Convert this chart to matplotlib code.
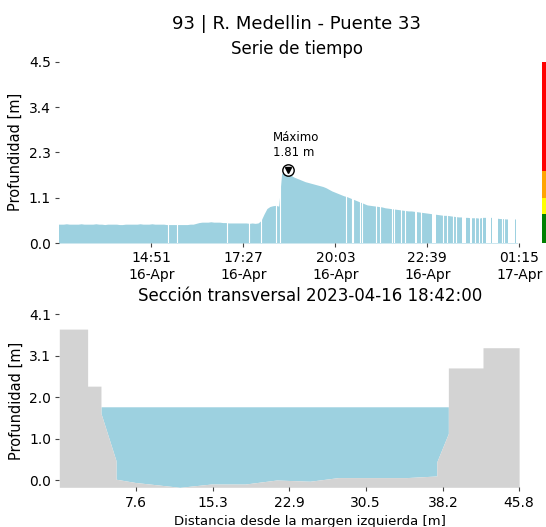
import matplotlib
matplotlib.use("Agg")
import matplotlib.pyplot as plt
import matplotlib.dates as mdates
import numpy as np
import pandas as pd
from datetime import datetime, timedelta

# ---------------- data ----------------
FECHA_BASE = datetime(2023, 4, 16)

def hora(s):
    h, m = map(int, s.split(":"))
    d = FECHA_BASE + timedelta(hours=h, minutes=m)
    if h < 12:
        d += timedelta(days=1)
    return d

inicio_muestras = "12:12"   # readings every 5 min
profundidad = [
    0.47, 0.47, 0.47, 0.48, 0.47, 0.47, 0.47, 0.47, 0.48, 0.47, 0.47, 0.47,
    0.47, 0.48, 0.47, 0.47, 0.46, 0.47, 0.47, 0.47, 0.47, 0.46, 0.46, 0.47,
    0.47, 0.47, 0.47, 0.47, 0.48, 0.47, 0.47, 0.47, 0.48, 0.47, 0.47, 0.47,
    0.47, 0.46, 0.46, 0.46, 0.46, 0.46, 0.46, 0.46, 0.46, 0.47, 0.47, 0.49,
    0.51, 0.52, 0.52, 0.52, 0.53, 0.52, 0.52, 0.52, 0.51, 0.51, 0.50, 0.50,
    0.50, 0.50, 0.50, 0.50, 0.50, 0.49, 0.50, 0.49, 0.50, 0.56, 0.72, 0.86,
    0.91, 0.93, 0.94, 0.92, 1.74, 1.78, 1.81, 1.70, 1.65, 1.62, 1.59, 1.56,
    1.53, 1.51, 1.49, 1.47, 1.45, 1.43, 1.41, 1.38, 1.34, 1.30, 1.27, 1.24,
    1.21, 1.18, 1.16, 1.13, 1.10, 1.07, 1.04, 1.01, 0.98, 0.95, 0.94, 0.93,
    0.92, 0.91, 0.90, 0.88, 0.87, 0.86, 0.85, 0.84, 0.83, 0.82, 0.81, 0.80,
    0.80, 0.79, 0.78, 0.77, 0.76, 0.75, 0.74, 0.73, 0.72, 0.71, 0.70, 0.69,
    0.69, 0.68, 0.67, 0.66, 0.65, 0.65, 0.64, 0.64, 0.63, 0.63, 0.63, 0.62,
    0.64, 0.64, 0.65, 0.64, 0.63, 0.62, 0.61, 0.61, 0.60, 0.60, 0.60, 0.60,
    0.60,
]
# minutes without data (single missing readings)
huecos_puntuales = ["15:20", "15:34", "16:59", "17:36", "17:57", "18:22", "18:29",
                    "20:21", "20:31", "20:33", "20:44", "20:48", "21:12", "21:18",
                    "21:39", "21:42", "21:54", "22:01", "22:28", "23:05", "23:12",
                    "23:23", "23:28", "00:00", "00:06", "00:45", "00:49"]
# longer periods without data
huecos_tramos = [("22:18", "22:22"), ("22:47", "22:53"), ("23:37", "23:44"),
                 ("23:51", "23:54"), ("00:11", "00:14"), ("00:19", "00:27"),
                 ("00:29", "00:38"), ("00:55", "01:08"), ("01:10", "01:15")]

hora_maximo = "18:42"
valor_maximo = 1.81
limite_y_serie = 4.525
rango_x_serie = ("12:15", "01:40")
inicio_ticks, paso_ticks_min, n_ticks = "12:15", 156, 5

umbrales = [0.0, 0.72, 1.12, 1.80, 4.525]
colores_alerta = ["green", "yellow", "orange", "red"]

# cross section
distancia = [0.0, 2.82, 2.82, 4.15, 4.15, 5.65, 5.65, 7.55, 12.0, 15.1, 18.5,
             21.65, 24.97, 27.8, 34.6, 37.6, 37.6, 38.75, 38.75, 42.2, 42.2, 45.8]
cota = [3.73, 3.73, 2.32, 2.32, 1.65, 0.48, 0.02, -0.06, -0.18, -0.10, -0.10,
        0.00, -0.03, 0.06, 0.06, 0.10, 0.45, 1.15, 2.77, 2.77, 3.27, 3.27]
nivel_agua = 1.81
ticks_dist = [7.6, 15.3, 22.9, 30.5, 38.2, 45.8]
ticks_prof = [0.0, 1.0, 2.0, 3.1, 4.1]
ticks_serie = [0.0, 1.1, 2.3, 3.4, 4.5]

AZUL = "#9dd1e0"
GRIS = "#d3d3d3"

# ---------------- figure ----------------
W, H = 546, 527
fig = plt.figure(figsize=(W / 100, H / 100), dpi=100)

def box(x0, y0, x1, y1):
    return [x0 / W, 1 - y1 / H, (x1 - x0) / W, (y1 - y0) / H]

ax1 = fig.add_axes(box(59.3, 61.7, 534.1, 243.0))
ax2 = fig.add_axes(box(59.3, 314.0, 561.3, 487.3))
ax3 = fig.add_axes(box(541.7, 61.7, 552.0, 243.0))

# time series
tiempos = pd.date_range(hora(inicio_muestras), periods=len(profundidad), freq="5min")
ax1.fill_between(tiempos, 0, profundidad, color=AZUL, lw=0)
for h in huecos_puntuales:
    ax1.axvline(hora(h), color="white", lw=0.8)
for a, b in huecos_tramos:
    ax1.axvspan(hora(a), hora(b), color="white", lw=0)

tmax = hora(hora_maximo)
ax1.plot([tmax], [valor_maximo], "o", ms=8.2, mfc="white", mec="black", mew=1.0, zorder=5)
ax1.plot([tmax], [valor_maximo], "v", ms=4.2, color="black", zorder=6)
ax1.annotate(f"Máximo\n{valor_maximo:.2f} m", xy=(tmax, valor_maximo),
             xytext=(-15, 11), textcoords="offset pixels", ha="left", va="bottom",
             fontsize=8.5)

ax1.set_xlim(hora(rango_x_serie[0]), hora(rango_x_serie[1]))
ax1.set_ylim(0, limite_y_serie)
xt = [hora(inicio_ticks) + timedelta(minutes=paso_ticks_min * k) for k in range(1, n_ticks + 1)]
ax1.set_xticks(xt)
ax1.xaxis.set_major_formatter(mdates.DateFormatter("%H:%M\n%d-%b"))
ax1.set_yticks(np.linspace(0, limite_y_serie, len(ticks_serie)))
ax1.set_yticklabels([f"{v:.1f}" for v in ticks_serie])
ax1.set_ylabel("Profundidad [m]", fontsize=10.5)
ax1.set_title("Serie de tiempo", fontsize=12, pad=5.3)

# alert bar
for i, c in enumerate(colores_alerta):
    ax3.bar(0, umbrales[i + 1] - umbrales[i], bottom=umbrales[i], width=1.0,
            color=c, lw=0)
ax3.set_xlim(-0.5, 0.5)
ax3.set_ylim(0, limite_y_serie)
ax3.axis("off")

# cross section
d = np.array(distancia)
z = np.array(cota)
ax2.fill_between(d, z, nivel_agua, where=z <= nivel_agua, interpolate=True,
                 color=AZUL, lw=0)
ax2.fill_between(d, z.min(), z, color=GRIS, lw=0)
ax2.set_xlim(0, 50)
ax2.set_ylim(z.min(), 1.1 * z.max())
ax2.set_xticks(ticks_dist)
ax2.set_xticklabels([f"{v:.1f}" for v in ticks_dist])
ax2.set_yticks(np.linspace(0, 1.1 * z.max(), len(ticks_prof)))
ax2.set_yticklabels([f"{v:.1f}" for v in ticks_prof])
ax2.set_ylabel("Profundidad [m]", fontsize=10.5)
ax2.set_xlabel("Distancia desde la margen izquierda [m]", fontsize=9.5)
ax2.set_title("Sección transversal 2023-04-16 18:42:00", fontsize=12, pad=9.6)

for ax in (ax1, ax2):
    for s in ax.spines.values():
        s.set_visible(False)
    ax.tick_params(length=3, width=0.8, color="#444444", pad=3, labelsize=10)

fig.text(296.7 / W, 1 - 29.3 / H, "93 | R. Medellin - Puente 33", ha="center",
         va="baseline", fontsize=13)

fig.savefig("out.png", dpi=100)
